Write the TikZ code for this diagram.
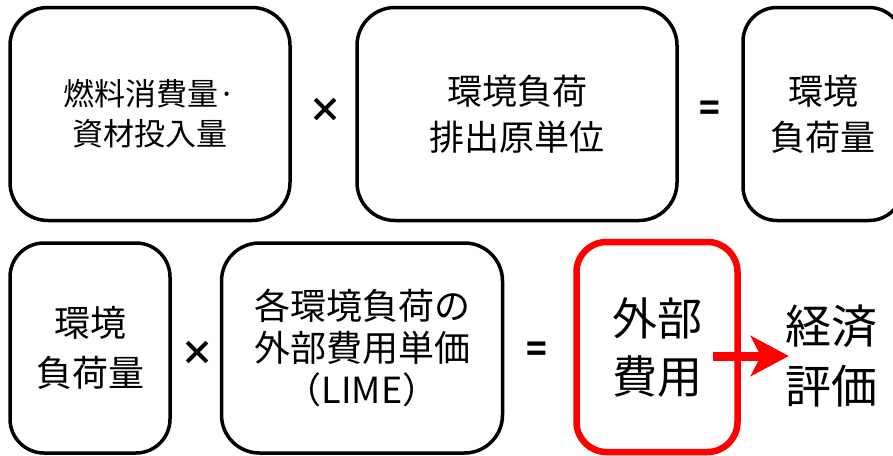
\documentclass[tikz,border=0pt]{standalone}
\usepackage{fontspec}
\setmainfont{Noto Sans CJK JP}
\usetikzlibrary{arrows.meta}
\tikzset{
  box/.style={draw=black, line width=3.5pt, rounded corners=38pt, fill=white, inner sep=0pt, align=center},
  redbox/.style={draw=red, line width=6.5pt, rounded corners=30pt, inner sep=0pt, align=center},
  op/.style={inner sep=0pt, font=\fontsize{34}{34}\selectfont\bfseries},
  lbl/.style={inner sep=0pt, align=center}
}
\begin{document}
\begin{tikzpicture}[x=1pt,y=-1pt]
\clip (0,0) rectangle (893,455);
\fill[white] (0,0) rectangle (893,455);
% top row
\node[box, minimum width=280pt, minimum height=213pt, font=\fontsize{31}{40}\selectfont] (b1) at (150,114) {燃料消費量·\\資材投入量};
\node[op] (x1) at (325,110) {×};
\node[box, minimum width=320pt, minimum height=213pt, font=\fontsize{35}{46}\selectfont] (b2) at (517,114) {環境負荷\\排出原単位};
\node[op] (e1) at (710,111) {=};
\node[box, minimum width=160pt, minimum height=213pt, rounded corners=34pt, font=\fontsize{35}{46}\selectfont] (b3) at (823,114) {環境\\負荷量};
% bottom row
\node[box, minimum width=160pt, minimum height=210pt, rounded corners=34pt, font=\fontsize{36}{50}\selectfont] (b4) at (90,348) {環境\\負荷量};
\node[op] (x2) at (197,353) {×};
\node[box, minimum width=281pt, minimum height=210pt, font=\fontsize{36}{42}\selectfont] (b5) at (362,348) {各環境負荷の\\外部費用単価\\（LIME）};
\node[op] (e2) at (537,352) {=};
\node[redbox, minimum width=161pt, minimum height=210pt, font=\fontsize{45}{58}\selectfont] (rb) at (657,347) {外部\\費用};
\node[lbl, font=\fontsize{46}{60}\selectfont] (eco) at (831,356) {経済\\評価};
\coordinate (as) at (713,356);
\draw[red, line width=9pt, -{Stealth[length=38pt,width=40pt,inset=10pt]}] (as) -- ([xshift=4pt]eco.west);
\end{tikzpicture}
\end{document}
